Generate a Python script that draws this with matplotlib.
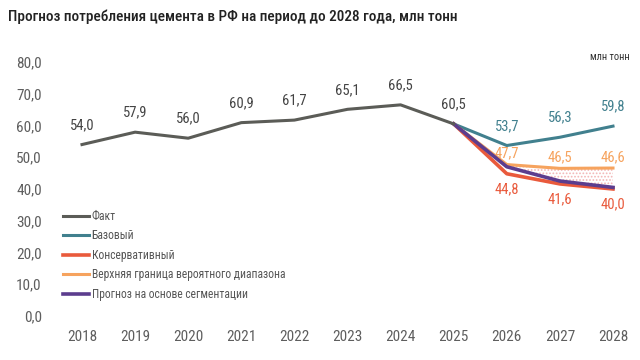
import matplotlib
matplotlib.use("Agg")
import matplotlib.pyplot as plt
from matplotlib import font_manager

names = {f.name for f in font_manager.fontManager.ttflist}
prefs = ['Roboto Condensed', 'PT Sans Narrow', 'Liberation Sans Narrow', 'Open Sans Condensed',
         'Fira Sans Condensed', 'IBM Plex Sans Condensed', 'Encode Sans Condensed', 'Roboto']
cond = next((p for p in prefs if p in names), 'DejaVu Sans')
plt.rcParams['font.family'] = [cond, 'DejaVu Sans']
plt.rcParams['hatch.linewidth'] = 0.8

years_fact = [2018, 2019, 2020, 2021, 2022, 2023, 2024, 2025]
fact = [54.0, 57.9, 56.0, 60.9, 61.7, 65.1, 66.5, 60.5]
years_fc = [2025, 2026, 2027, 2028]
base = [60.5, 53.7, 56.3, 59.8]
conservative = [60.5, 44.8, 41.6, 40.0]
upper = [60.5, 47.7, 46.5, 46.6]
segment = [60.5, 47.0, 42.5, 40.5]
yticks = [0, 10, 20, 30, 40, 50, 60, 70, 80]
xticks = list(range(2018, 2029))

c_fact = '#5b5c57'
c_base = '#41808e'
c_cons = '#e95a3c'
c_upper = '#f6a35e'
c_seg = '#5c3d8e'

W, H = 640, 360
fig = plt.figure(figsize=(6.4, 3.6), dpi=100)
ax = fig.add_axes([82 / W, (H - 316) / H, (613 - 82) / W, (316 - 62) / H])
ax.set_xlim(2018, 2028)
ax.set_ylim(0, 80)
for s in ax.spines.values():
    s.set_visible(False)

def fmt(v):
    return f"{v:.1f}".replace('.', ',')

ax.set_yticks(yticks)
ax.set_yticklabels([fmt(v) for v in yticks])
ax.set_xticks(xticks)
ax.set_xticklabels([str(x) for x in xticks])
ax.tick_params(axis='both', length=0, labelsize=11, labelcolor='#5e5e5e')
ax.tick_params(axis='y', pad=29)
ax.tick_params(axis='x', pad=10)

ax.fill_between(years_fc[1:], segment[1:], upper[1:], facecolor='none',
                edgecolor='#f2b5b5', hatch='.....', linewidth=0, zorder=1)

lw = 2.2
ax.plot(years_fact, fact, color=c_fact, lw=lw, label='Факт', clip_on=False, zorder=5)
ax.plot(years_fc, base, color=c_base, lw=lw, label='Базовый', clip_on=False, zorder=3)
ax.plot(years_fc, conservative, color=c_cons, lw=2.6, label='Консервативный', clip_on=False, zorder=3)
ax.plot(years_fc, upper, color=c_upper, lw=lw, label='Верхняя граница вероятного диапазона', clip_on=False, zorder=3)
ax.plot(years_fc, segment, color=c_seg, lw=2.6, label='Прогноз на основе сегментации', clip_on=False, zorder=4)

fs = 10.5
for x, v in zip(years_fact, fact):
    ax.annotate(fmt(v), (x, v), xytext=(0, 9), textcoords='offset points',
                ha='center', va='bottom', fontsize=fs, color='#444444')
for x, v in zip(years_fc[1:], base[1:]):
    ax.annotate(fmt(v), (x, v), xytext=(0, 9), textcoords='offset points',
                ha='center', va='bottom', fontsize=fs, color=c_base)
for x, v in zip(years_fc[1:], upper[1:]):
    ax.annotate(fmt(v), (x, v), xytext=(0, 3), textcoords='offset points',
                ha='center', va='bottom', fontsize=fs, color=c_upper)
for x, v in zip(years_fc[1:], conservative[1:]):
    ax.annotate(fmt(v), (x, v), xytext=(0, -6), textcoords='offset points',
                ha='center', va='top', fontsize=fs, color=c_cons)

leg = ax.legend(loc='upper left', bbox_to_anchor=(63 / W, (H - 210) / H),
                bbox_transform=fig.transFigure, frameon=False, fontsize=8.4,
                handlelength=2.25, handletextpad=0.2, labelspacing=0.55,
                borderpad=0, borderaxespad=0)
for t in leg.get_texts():
    t.set_color('#555555')

fig.text(8 / W, (H - 17) / H, 'Прогноз потребления цемента в РФ на период до 2028 года, млн тонн',
         fontsize=11, fontweight='medium', color='#222222', va='center', ha='left')
fig.text(630 / W, (H - 57) / H, 'млн тонн', fontsize=7.5, color='#333333', ha='right', va='center')

fig.savefig('out.png', dpi=100)
